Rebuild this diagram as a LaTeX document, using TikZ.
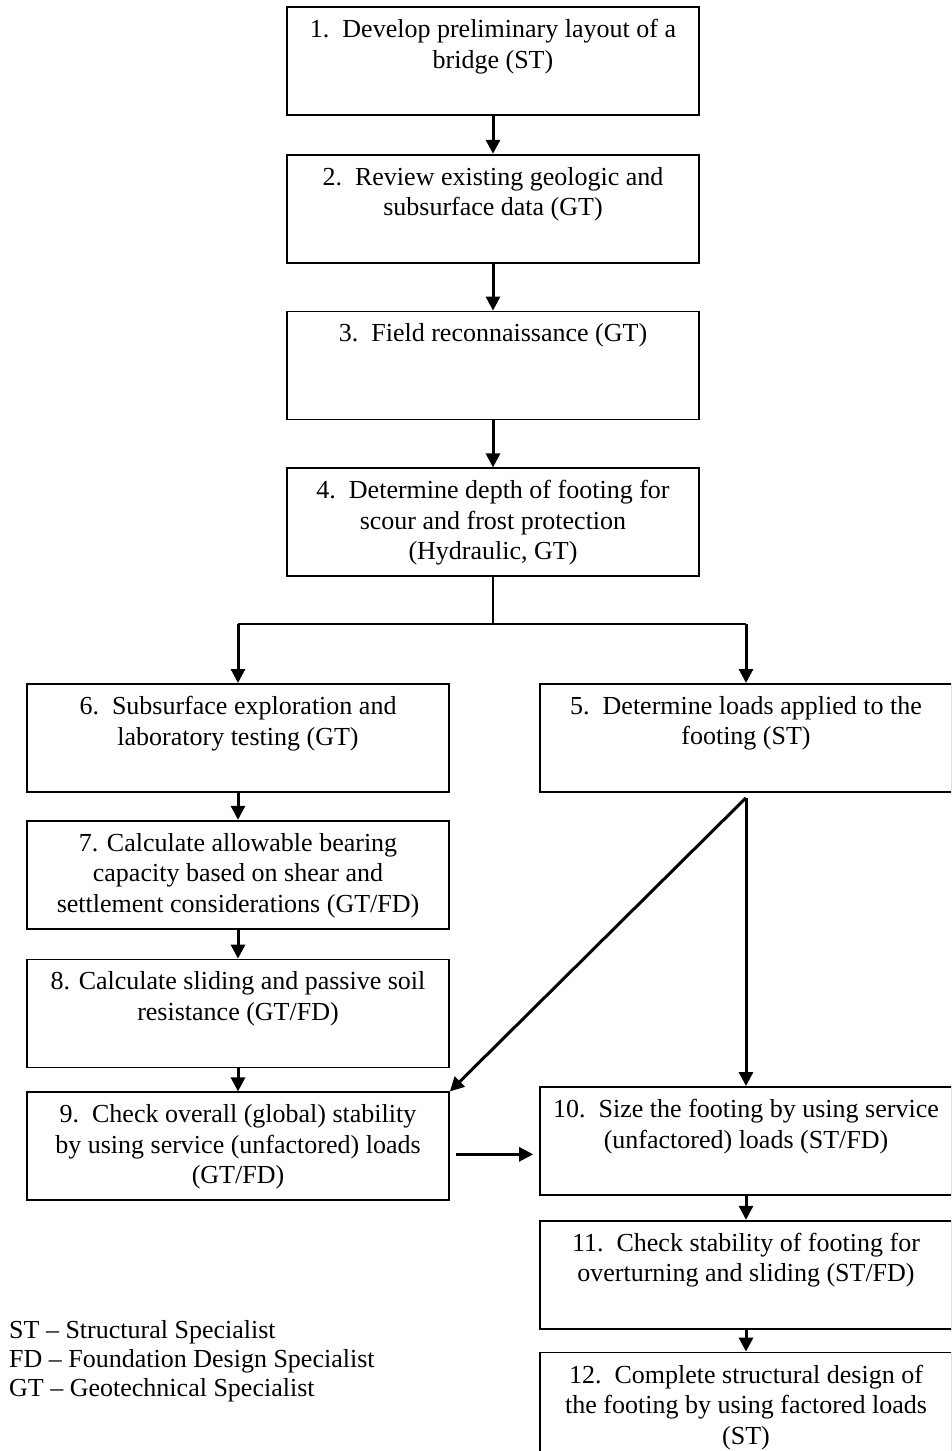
\documentclass[tikz,border=0pt]{standalone}
\usepackage{fontspec}
\setmainfont{Liberation Serif}
\usetikzlibrary{positioning,arrows.meta}

\begin{document}
\begin{tikzpicture}[x=1pt, y=-1pt, font=\fontsize{26pt}{30.5pt}\selectfont,
  stepbox/.style={draw, line width=1.8pt, minimum height=108pt, inner sep=0pt, anchor=north},
  mid/.style={minimum width=412pt},
  lft/.style={minimum width=422pt},
  steptext/.style={anchor=north, align=center, inner sep=0pt, yshift=-13pt},
  link/.style={line width=1.6pt},
  arr/.style={-{Triangle[length=14pt,width=14pt]}, line width=3pt}]
\useasboundingbox (0,0) rectangle (951,1451);
\clip (0,0) rectangle (951,1451);
% centre column
\node[stepbox, mid, label={[steptext]north:1.\ \ Develop preliminary layout of a\\bridge (ST)}] (b1) at (493,6) {};
\node[stepbox, mid, below=38pt of b1, label={[steptext]north:2.\ \ Review existing geologic and\\subsurface data (GT)}] (b2) {};
\node[stepbox, mid, below=47pt of b2, label={[steptext]north:3.\ \ Field reconnaissance (GT)}] (b3) {};
\node[stepbox, mid, below=47pt of b3, label={[steptext]north:4.\ \ Determine depth of footing for\\scour and frost protection\\(Hydraulic, GT)}] (b4) {};
% left column
\node[stepbox, lft, label={[steptext]north:6.\ \ Subsurface exploration and\\laboratory testing (GT)}] (b6) at (238,683) {};
\node[stepbox, lft, below=27pt of b6, label={[steptext]north:7. Calculate allowable bearing\\capacity based on shear and\\settlement considerations (GT/FD)}] (b7) {};
\node[stepbox, lft, below=29pt of b7, label={[steptext]north:8. Calculate sliding and passive soil\\resistance (GT/FD)}] (b8) {};
\node[stepbox, lft, below=23pt of b8, label={[steptext]north:9.\ \ Check overall (global) stability\\by using service (unfactored) loads\\(GT/FD)}] (b9) {};
% right column
\node[stepbox, mid, label={[steptext]north:5.\ \ Determine loads applied to the\\footing (ST)}] (b5) at (746,683) {};
\node[stepbox, mid, label={[steptext]north:10.\ \ Size the footing by using service\\(unfactored) loads (ST/FD)}] (b10) at (746,1086) {};
\node[stepbox, mid, below=24pt of b10, label={[steptext]north:11.\ \ Check stability of footing for\\overturning and sliding (ST/FD)}] (b11) {};
\node[stepbox, mid, below=22pt of b11, label={[steptext]north:12.\ \ Complete structural design of\\the footing by using factored loads\\(ST)}] (b12) {};
% legend
\node[anchor=north west, align=left, inner sep=0pt, font=\fontsize{26pt}{29pt}\selectfont] (key) at (9,1320)
  {ST -- Structural Specialist\\FD -- Foundation Design Specialist\\GT -- Geotechnical Specialist};
% connectors
\draw[arr] (b1) -- (b2); \draw[arr] (b2) -- (b3); \draw[arr] (b3) -- (b4);
\coordinate (split) at (493,624);
\draw[link] (b4) -- (split);
\draw[link] (split -| b6) -- (split -| b5);
\foreach \x in {b6,b5} \draw[arr] (split -| \x) -- (\x.north);
\draw[arr] (b6) -- (b7); \draw[arr] (b7) -- (b8); \draw[arr] (b8) -- (b9);
\coordinate[below=5pt of b5.south] (fork);
\draw[arr] (fork) -- (b9.north east);
\draw[arr] (fork) -- (b10.north);
\draw[arr] ([xshift=6pt,yshift=-8pt]b9.east) -- ([xshift=-6pt,yshift=-8pt]b9.east -| b10.west);
\draw[arr] (b10) -- (b11); \draw[arr] (b11) -- (b12);
\end{tikzpicture}
\end{document}
